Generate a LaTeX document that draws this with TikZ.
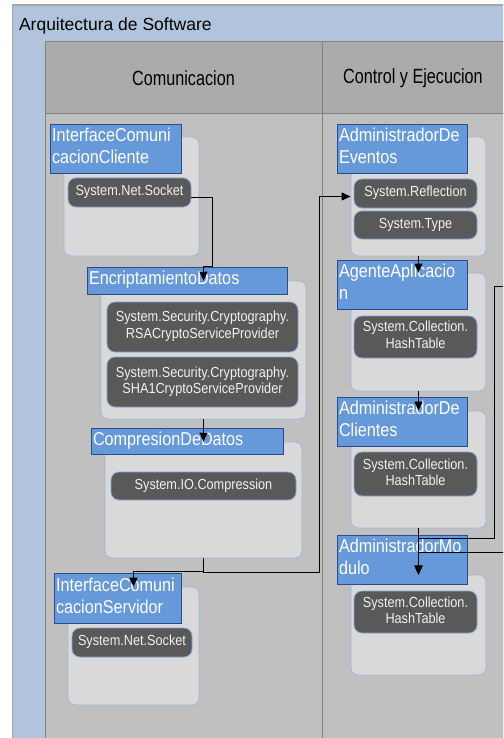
\documentclass[tikz,border=0pt]{standalone}
\usepackage{fontspec}
\setmainfont{Liberation Sans}
\usepackage{graphicx}
\usetikzlibrary{arrows.meta,calc}
\definecolor{titlebg}{HTML}{B0C4DE}
\definecolor{hdrbg}{HTML}{ABABAB}
\definecolor{bodybg}{HTML}{C0C0C0}
\definecolor{framegray}{HTML}{808080}
\definecolor{contbg}{HTML}{D9D9D9}
\definecolor{contborder}{HTML}{9DB9DF}
\definecolor{lblbg}{HTML}{6699D9}
\definecolor{lblborder}{HTML}{2B4C8C}
\definecolor{pillbg}{HTML}{595959}
\definecolor{pillborder}{HTML}{86A7D6}
\definecolor{pillfg}{HTML}{F0F0F0}
\newcommand{\mylbltxt}[1]{\scalebox{1}[1.15]{\begin{tabular}{@{}l@{}}#1\end{tabular}}}
\newcommand{\mypilltxt}[1]{\scalebox{1}[1.15]{\begin{tabular}{@{}c@{}}#1\end{tabular}}}
\begin{document}
\begin{tikzpicture}[x=1pt,y=-1pt,
  cont/.style={draw=contborder, fill=contbg, rounded corners=7pt, line width=0.8pt, inner sep=0pt},
  lbl/.style={draw=lblborder, fill=lblbg, line width=0.8pt, text=white,
    font=\fontsize{16.2pt}{19.1pt}\selectfont, inner xsep=2pt, inner ysep=0pt, align=left},
  pill/.style={draw=pillborder, fill=pillbg, rounded corners=8pt, line width=0.8pt, text=pillfg,
    font=\fontsize{12.7pt}{14.5pt}\selectfont, inner sep=0pt, align=center},
  hdrtext/.style={font=\fontsize{16.2pt}{19pt}\selectfont, text=black},
  conn/.style={draw=black, line width=0.9pt, -{Triangle[length=9pt,width=8pt]}},
  gridline/.style={draw=framegray, line width=1pt}
]
\useasboundingbox (0,0) rectangle (503,738);
\clip (0,0) rectangle (503,738);
\fill[white] (0,0) rectangle (503,738);
% outer frame and title bar
\fill[titlebg] (12.7,5) rectangle (510,745);
\draw[framegray!70, line width=1.5pt] (12.7,745) -- (12.7,5) -- (510,5);
\draw[framegray!45, line width=1pt] (12.7,42) -- (45,42);
\node[anchor=base west, font=\fontsize{17.5pt}{20pt}\selectfont] (title) at (15.5,31) {Arquitectura de Software};
% columns
\path[gridline, fill=hdrbg] (45,42) rectangle (322,114);
\path[gridline, fill=hdrbg] (322,42) rectangle (510,114);
\path[gridline, fill=bodybg] (45,114) rectangle (322,745);
\path[gridline, fill=bodybg] (322,114) rectangle (510,745);
\node[hdrtext] (h1) at (183.5,78) {\scalebox{1}[1.27]{Comunicacion}};
\node[hdrtext] (h2) at (413,78) {\scalebox{1}[1.27]{Control y Ejecucion}};

% containers
\node[cont, minimum width=135pt, minimum height=119pt] (c1) at (131.5,196.5) {};
\node[cont, minimum width=205pt, minimum height=138pt] (c2) at (203.5,350) {};
\node[cont, minimum width=197pt, minimum height=116pt] (c3) at (203.5,500) {};
\node[cont, minimum width=131pt, minimum height=118pt] (c4) at (133.5,646) {};
\node[cont, minimum width=135pt, minimum height=119pt] (c5) at (418.5,196.5) {};
\node[cont, minimum width=135pt, minimum height=118pt] (c6) at (418.5,332) {};
\node[cont, minimum width=135pt, minimum height=117pt] (c7) at (418.5,469.5) {};
\node[cont, minimum width=135pt, minimum height=100pt] (c8) at (418.5,625) {};

% pills
\node[pill, minimum width=123pt, minimum height=29pt] (p1) at (129.5,192.5) {\mypilltxt{System.Net.Socket}};
\node[pill, minimum width=191pt, minimum height=50pt] (p2a) at (202.5,327) {\mypilltxt{System.Security.Cryptography.\\RSACryptoServiceProvider}};
\node[pill, minimum width=191pt, minimum height=50pt] (p2b) at (202.5,382) {\mypilltxt{System.Security.Cryptography.\\SHA1CryptoServiceProvider}};
\node[pill, minimum width=185pt, minimum height=28pt] (p3) at (203.5,486) {\mypilltxt{System.IO.Compression}};
\node[pill, minimum width=120pt, minimum height=29pt] (p4) at (132,642.5) {\mypilltxt{System.Net.Socket}};
\node[pill, minimum width=123pt, minimum height=29pt] (p5a) at (415.5,193.5) {\mypilltxt{System.Reflection}};
\node[pill, minimum width=123pt, minimum height=28pt] (p5b) at (415.5,225) {\mypilltxt{System.Type}};
\node[pill, minimum width=123pt, minimum height=42pt] (p6) at (415.5,337) {\mypilltxt{System.Collection.\\HashTable}};
\node[pill, minimum width=123pt, minimum height=44pt] (p7) at (415.5,474) {\mypilltxt{System.Collection.\\HashTable}};
\node[pill, minimum width=123pt, minimum height=42pt] (p8) at (415.5,612) {\mypilltxt{System.Collection.\\HashTable}};

% labels
\node[lbl, text width=127pt, minimum height=49pt] (l1) at (115.5,148.5) {\mylbltxt{InterfaceComuni\\cacionCliente}};
\node[lbl, text width=196pt, minimum height=27pt] (l2) at (187,280.5) {\mylbltxt{EncriptamientoDatos}};
\node[lbl, text width=188pt, minimum height=26pt] (l3) at (187,441) {\mylbltxt{CompresionDeDatos}};
\node[lbl, text width=123pt, minimum height=50pt] (l4) at (117.5,598) {\mylbltxt{InterfaceComuni\\cacionServidor}};
\node[lbl, text width=126pt, minimum height=49pt] (l5) at (402,148.5) {\mylbltxt{AdministradorDe\\Eventos}};
\node[lbl, text width=126pt, minimum height=49pt] (l6) at (402,284.5) {\mylbltxt{AgenteAplicacio\\n}};
\node[lbl, text width=126pt, minimum height=49pt] (l7) at (402,421.5) {\mylbltxt{AdministradorDe\\Clientes}};
\node[lbl, text width=126pt, minimum height=49pt] (l8) at (402,559.5) {\mylbltxt{AdministradorMo\\dulo}};

% connector bend points and free ends
\coordinate (b0) at (212,266);
\coordinate (j1) at (319,572);
\coordinate (b1) at (494,538);
\coordinate (offA) at (510,286);
\coordinate (offB) at (510,552);

% connectors
\draw[conn] ([yshift=-4.5pt]p1.east) -| (b0) -| (c2.north);
\draw[conn] (c2.south) -- (c3.north);
\draw[conn] (c3.south) |- ([yshift=15pt]c4.north) -- (c4.north);
\draw[conn] (c3.south) |- (j1) |- (c5.west);
\draw[conn] (c5.south) -- (c6.north);
\draw[conn] (c6.south) -- (c7.north);
\draw[conn] (c7.south) -- (c8.north);
\draw[conn] (offA) -| (b1) -| (c8.north);
\draw[conn] (offB) -| (c8.north);
\end{tikzpicture}
\end{document}
